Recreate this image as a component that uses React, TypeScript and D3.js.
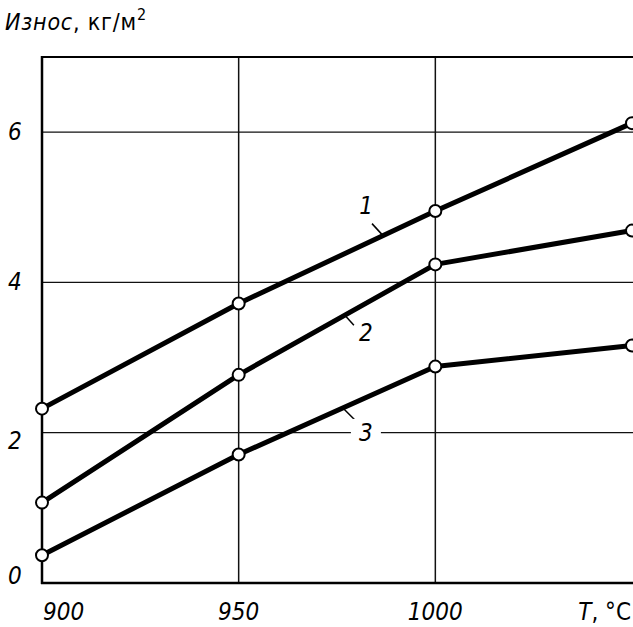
import React from 'react'
import * as d3 from 'd3';

// температура, °C
const temps = [900, 950, 1000, 1050];
// износ, кг/м2 по кривым 1, 2, 3
const wear1 = [2.32, 3.72, 4.95, 6.12];
const wear2 = [1.07, 2.77, 4.24, 4.69];
const wear3 = [0.37, 1.71, 2.88, 3.16];
const seriesNames = ['1', '2', '3'];
const xTicks = [900, 950, 1000];
const yTicks = [0, 2, 4, 6];

const W = 633;
const H = 627;
const font = '"DejaVu Sans Condensed", "DejaVu Sans", sans-serif';

export default function App() {
  const x = d3.scaleLinear().domain([900, 1050]).range([42, 632]);
  const y = d3.scaleLinear().domain([0, 7]).range([583, 57]);

  const line = d3.line<number[]>()
    .x(d => x(d[0]))
    .y(d => y(d[1]));

  const allWear = [wear1, wear2, wear3];
  const series = allWear.map((vals, i) => ({
    name: seriesNames[i],
    vals,
    points: temps.map((t, j) => [t, vals[j]])
  }));

  // подписи кривых с выносками (смещения в пикселях от точки на кривой)
  const labelAt = [
    { t: 986.7, dx: -17, dy: -30, lx: -11, ly: -12 },
    { t: 977, dx: 21, dy: 18, lx: 9, ly: 10 },
    { t: 976.5, dx: 23, dy: 25, lx: 12, ly: 12 },
  ];

  const anchor = (i: number) => {
    const lab = labelAt[i];
    const yi = d3.scaleLinear().domain(temps).range(series[i].vals)(lab.t);
    return [x(lab.t), y(yi)];
  };

  return (
    <svg width={W} height={H} style={{ position: 'absolute', left: 0, top: 0, background: '#fff' }}>
      <rect width={W} height={H} fill="#fff" />
      {/* сетка */}
      {xTicks.slice(1).map(t => (
        <line key={'gx' + t} x1={x(t)} x2={x(t)} y1={y(7)} y2={y(0)} stroke="#111" strokeWidth={1.5} />
      ))}
      {yTicks.slice(1).map(v => (
        <line key={'gy' + v} x1={x(900)} x2={W} y1={y(v)} y2={y(v)} stroke="#111" strokeWidth={1.3} />
      ))}
      {/* рамка */}
      <line x1={x(900)} x2={W} y1={y(7)} y2={y(7)} stroke="#000" strokeWidth={2} />
      <line x1={x(900)} x2={x(900)} y1={y(7) - 1} y2={y(0) + 1} stroke="#000" strokeWidth={2.5} />
      <line x1={x(900) - 1} x2={W} y1={y(0)} y2={y(0)} stroke="#000" strokeWidth={2.5} />

      {/* кривые */}
      {series.map((s, i) => {
        const lab = labelAt[i];
        const [px, py] = anchor(i);
        return (
          <g key={s.name}>
            <path d={line(s.points as any) || ''} fill="none" stroke="#000" strokeWidth={5} strokeLinejoin="round" />
            {s.points.map((p, j) => (
              <circle key={j} cx={x(p[0])} cy={y(p[1])} r={6} fill="#fff" stroke="#000" strokeWidth={2} />
            ))}
            <line x1={px} y1={py} x2={px + lab.lx} y2={py + lab.ly} stroke="#000" strokeWidth={1.5} />
          </g>
        );
      })}
      {series.map((s, i) => {
        const lab = labelAt[i];
        const [ax, ay] = anchor(i);
        const px = ax + lab.dx;
        const py = ay + lab.dy;
        return (
          <g key={'l' + s.name}>
            {i === 2 && <rect x={px - 15} y={py - 14} width={30} height={26} fill="#fff" />}
            <text x={px} y={py} textAnchor="middle" dominantBaseline="central"
              fontFamily={font} fontStyle="italic" fontSize={24} fill="#000">{s.name}</text>
          </g>
        );
      })}

      {/* подписи осей */}
      {yTicks.map(v => (
        <text key={'ty' + v} x={8} y={y(v) + (v === 0 ? -7 : v === 2 ? 8 : 0)} dominantBaseline="central"
          fontFamily={font} fontStyle="italic" fontSize={24} fill="#000">{v}</text>
      ))}
      {xTicks.map(t => (
        <text key={'tx' + t} x={t === 900 ? x(t) + 1 : x(t)} y={620} textAnchor={t === 900 ? 'start' : 'middle'}
          fontFamily={font} fontStyle="italic" fontSize={24} fill="#000">{t}</text>
      ))}
      <text x={631} y={620} textAnchor="end" fontFamily={font} fontSize={24} fill="#000">
        <tspan fontStyle="italic">T</tspan>, °C
      </text>
      <text x={5} y={30} fontFamily={font} fontSize={23} letterSpacing={0.8} fill="#000">
        <tspan fontStyle="italic">Износ</tspan>, кг/м<tspan dy={-10} fontSize={16}>2</tspan>
      </text>
    </svg>
  );
}
